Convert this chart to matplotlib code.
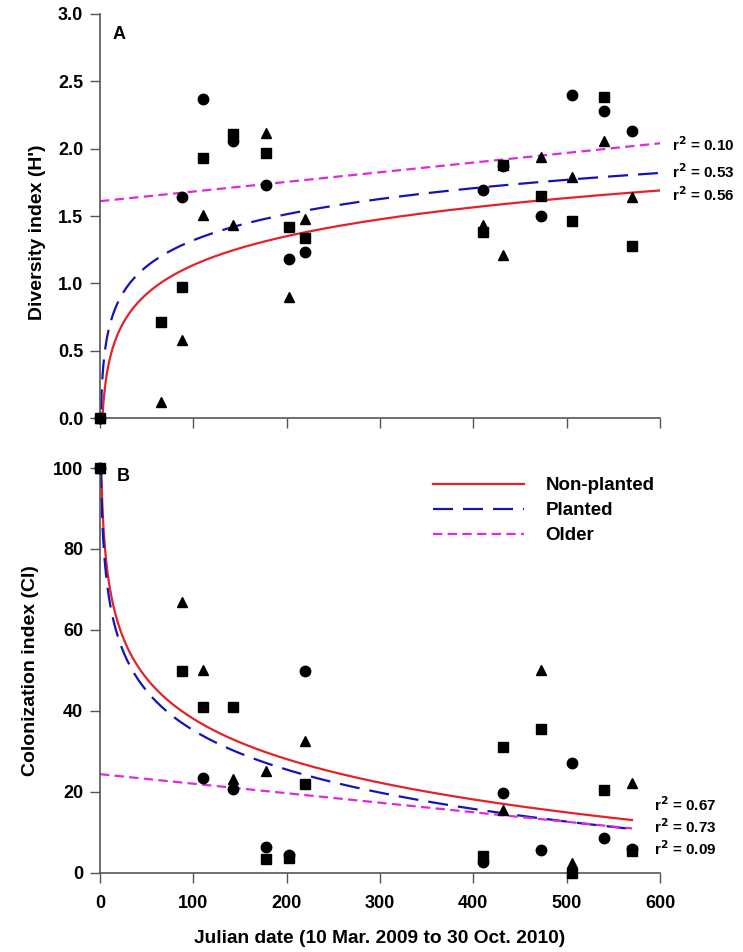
import numpy as np
import matplotlib
matplotlib.use("Agg")
import matplotlib.pyplot as plt

plt.rcParams["font.family"] = ["Liberation Sans", "DejaVu Sans"]
plt.rcParams["font.weight"] = "bold"

# sampling dates (Julian days)
days = [0, 65, 88, 110, 143, 178, 202, 220, 410, 432, 473, 506, 540, 570]

# panel A: diversity index (H')
div_circle_x = [0, 88, 110, 143, 178, 202, 220, 410, 432, 473, 506, 540, 570]
div_circle_y = [0.0, 1.64, 2.37, 2.06, 1.73, 1.18, 1.23, 1.69, 1.87, 1.50, 2.40, 2.28, 2.13]
div_square_x = days
div_square_y = [0.0, 0.71, 0.97, 1.93, 2.11, 1.97, 1.42, 1.34, 1.38, 1.88, 1.65, 1.46, 2.38, 1.28]
div_tri_x = days
div_tri_y = [0.0, 0.12, 0.58, 1.51, 1.43, 2.12, 0.90, 1.48, 1.43, 1.21, 1.94, 1.79, 2.06, 1.64]

# panel B: colonization index (CI)
col_circle_x = [0, 110, 143, 178, 202, 220, 410, 432, 473, 506, 540, 570]
col_circle_y = [100, 23.4, 20.7, 6.5, 4.4, 49.9, 2.8, 19.8, 5.7, 27.2, 8.7, 6.0]
col_square_x = [0, 88, 110, 143, 178, 202, 220, 410, 432, 473, 506, 540, 570]
col_square_y = [100, 49.9, 40.9, 41.1, 3.5, 3.6, 21.9, 4.2, 31.2, 35.6, 0.1, 20.4, 5.4]
col_tri_x = [0, 88, 110, 143, 178, 220, 432, 473, 506, 570]
col_tri_y = [100, 66.8, 50.1, 23.1, 25.2, 32.6, 15.6, 50.1, 2.5, 22.3]

# fitted trend lines: log fits y = a + b*ln(x), linear fit for "Older"
fits_a = {"Non-planted": (-0.287, 0.309), "Planted": (0.035, 0.279)}
fit_a_older = (1.61, 0.43 / 600)
r2_a = {"Non-planted": "0.56", "Planted": "0.53", "Older": "0.10"}
fits_b = {"Non-planted": (104.2, -14.36), "Planted": (99.7, -14.0)}
fit_b_older = (24.4, -13.4 / 570)
r2_b = {"Non-planted": "0.67", "Planted": "0.73", "Older": "0.09"}

styles = {
    "Non-planted": dict(color="#e3222a", lw=1.6, ls="-"),
    "Planted": dict(color="#1414b4", lw=1.6, ls=(0, (9, 4.5))),
    "Older": dict(color="#e028e0", lw=1.6, ls=(0, (4.2, 2.4))),
}

fig = plt.figure(figsize=(7.43, 9.52), dpi=100)
ax_a = fig.add_axes([0.1346, 0.5609, 0.7537, 0.4244])
ax_b = fig.add_axes([0.1346, 0.0830, 0.7537, 0.4254])

mk = dict(color="black", ms=7.5, ls="none", clip_on=False, zorder=3)

for ax in (ax_a, ax_b):
    for side in ("top", "right"):
        ax.spines[side].set_visible(False)
    for side in ("left", "bottom"):
        ax.spines[side].set_color("#555555")
        ax.spines[side].set_linewidth(1.2)
    ax.tick_params(direction="out", length=7, width=1.0, color="#555555",
                   labelsize=13)
    ax.tick_params(axis="y", pad=5)
    ax.tick_params(axis="x", pad=9)
    ax.set_xlim(0, 600)
    ax.set_xticks(range(0, 601, 100))

# ---- panel A
ax_a.plot(div_circle_x, div_circle_y, marker="o", **mk)
ax_a.plot(div_square_x, div_square_y, marker="s", **mk)
ax_a.plot(div_tri_x, div_tri_y, marker="^", **mk)

xa = np.linspace(0.5, 600, 800)
for name, (a, b) in fits_a.items():
    ax_a.plot(xa, a + b * np.log(xa), **styles[name])
xl = np.array([0, 600])
ax_a.plot(xl, fit_a_older[0] + fit_a_older[1] * xl, **styles["Older"])

ax_a.set_ylim(0, 3.0)
ax_a.set_yticks(np.arange(0, 3.01, 0.5))
ax_a.set_yticklabels([f"{v:.1f}" for v in np.arange(0, 3.01, 0.5)])
ax_a.set_xticklabels([])
ax_a.set_ylabel("Diversity index (H')", fontsize=14, fontweight="bold")
ax_a.yaxis.set_label_coords(-0.097, 0.46)
ax_a.text(0.023, 0.95, "A", transform=ax_a.transAxes, fontsize=13,
          fontweight="bold", va="center")

for name, yv in zip(("Older", "Planted", "Non-planted"), (2.03, 1.83, 1.655)):
    ax_a.text(613, yv, f"r$^\\mathbf{{2}}$ = {r2_a[name]}", fontsize=11,
              fontweight="bold", va="center", clip_on=False)

# ---- panel B
ax_b.plot(col_circle_x, col_circle_y, marker="o", **mk)
ax_b.plot(col_square_x, col_square_y, marker="s", **mk)
ax_b.plot(col_tri_x, col_tri_y, marker="^", **mk)

xb = np.linspace(0.8, 570, 800)
handles = []
for name, (a, b) in fits_b.items():
    h, = ax_b.plot(xb, np.minimum(a + b * np.log(xb), 100), label=name, **styles[name])
    handles.append(h)
xl = np.array([0, 570])
h, = ax_b.plot(xl, fit_b_older[0] + fit_b_older[1] * xl, label="Older", **styles["Older"])
handles.append(h)

ax_b.set_ylim(0, 100)
ax_b.set_yticks(range(0, 101, 20))
ax_b.set_ylabel("Colonization index (CI)", fontsize=14, fontweight="bold")
ax_b.yaxis.set_label_coords(-0.109, 0.5)
ax_b.set_xlabel("Julian date (10 Mar. 2009 to 30 Oct. 2010)", fontsize=13.8,
                fontweight="bold", labelpad=13)
ax_b.text(0.03, 0.978, "B", transform=ax_b.transAxes, fontsize=13,
          fontweight="bold", va="center")

for name, yv in zip(("Non-planted", "Planted", "Older"), (16.8, 11.4, 5.9)):
    ax_b.text(594, yv, f"r$^\\mathbf{{2}}$ = {r2_b[name]}", fontsize=11,
              fontweight="bold", va="center", clip_on=False)

ax_b.legend(handles=handles, loc="upper left", bbox_to_anchor=(0.594, 0.977),
            frameon=False, handlelength=4.85, handletextpad=1.17,
            labelspacing=0.42, borderpad=0, borderaxespad=0,
            prop={"weight": "bold", "size": 13.5})

fig.savefig("out.png", dpi=100)
